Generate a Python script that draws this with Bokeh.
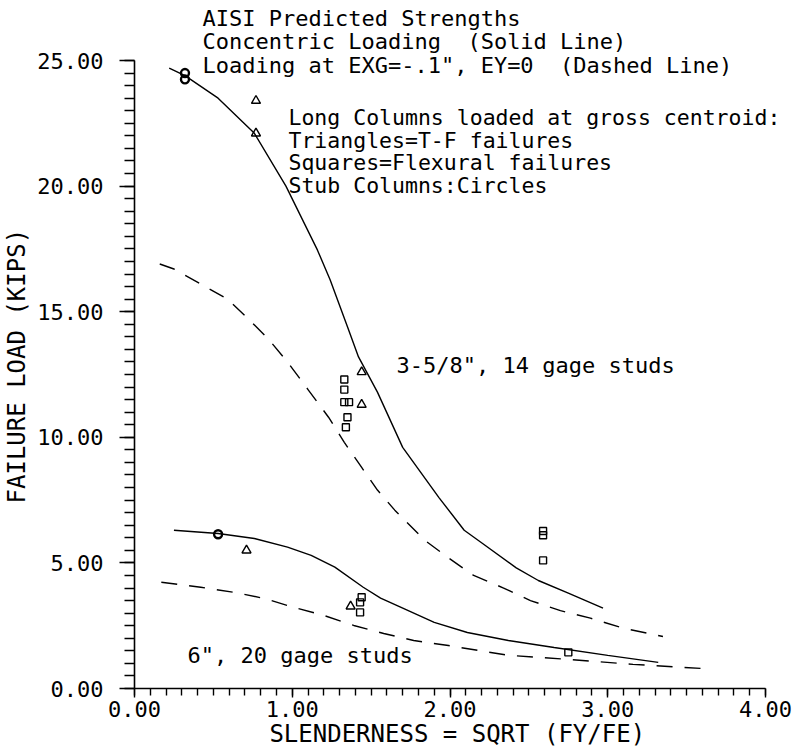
from bokeh.plotting import figure
from bokeh.models import Range1d, FixedTicker, PrintfTickFormatter, Label
from bokeh.embed import file_html
from bokeh.resources import INLINE

# ---- data ----
x_conc_14 = [0.22, 0.32, 0.53, 0.76, 0.96, 1.16, 1.24, 1.35, 1.42, 1.54, 1.70, 1.93, 2.09, 2.20, 2.42, 2.56, 2.75, 2.97]
y_conc_14 = [24.7, 24.4, 23.5, 22.1, 20.0, 17.45, 16.27, 14.4, 13.2, 11.8, 9.6, 7.6, 6.3, 5.8, 4.8, 4.3, 3.8, 3.2]

x_ecc_14 = [0.16, 0.25, 0.42, 0.59, 0.74, 0.85, 0.97, 1.10, 1.23, 1.33, 1.44, 1.54, 1.65, 1.84, 1.99, 2.15, 2.34, 2.51, 2.70, 2.89, 3.10, 3.35]
y_ecc_14 = [16.9, 16.7, 16.1, 15.5, 14.6, 13.9, 13.0, 11.9, 10.8, 9.8, 8.8, 7.9, 7.1, 5.9, 5.2, 4.5, 4.0, 3.5, 3.1, 2.8, 2.4, 2.07]

x_conc_20 = [0.25, 0.53, 0.76, 0.97, 1.12, 1.27, 1.45, 1.56, 1.69, 1.90, 2.11, 2.37, 2.66, 3.00, 3.32]
y_conc_20 = [6.3, 6.17, 5.97, 5.63, 5.3, 4.83, 4.03, 3.6, 3.23, 2.63, 2.23, 1.91, 1.63, 1.32, 1.04]

x_ecc_20 = [0.17, 0.42, 0.63, 0.82, 1.01, 1.20, 1.39, 1.58, 1.77, 1.99, 2.37, 2.75, 3.16, 3.59]
y_ecc_20 = [4.23, 4.03, 3.83, 3.59, 3.23, 2.91, 2.51, 2.19, 1.91, 1.71, 1.32, 1.16, 0.96, 0.8]

x_tf = [0.77, 0.77, 1.44, 1.44, 0.71, 1.37]
y_tf = [23.4, 22.1, 12.6, 11.3, 5.5, 3.27]

x_flex = [1.33, 1.33, 1.33, 1.36, 1.35, 1.34, 1.44, 1.43, 1.43, 2.59, 2.59, 2.59, 2.75]
y_flex = [12.3, 11.9, 11.4, 11.4, 10.8, 10.4, 3.63, 3.43, 3.03, 6.27, 6.1, 5.1, 1.44]

x_stub = [0.32, 0.32, 0.53]
y_stub = [24.5, 24.25, 6.14]

x_major = [0, 1, 2, 3, 4]
x_minor = [i / 10 for i in range(0, 41)]
y_major = [0, 5, 10, 15, 20, 25]
y_minor = [i / 2 for i in range(0, 51)]

NB = "\u00a0"
title_lines = [
    "AISI Predicted Strengths",
    "Concentric Loading" + NB + " (Solid Line)",
    "Loading at EXG=-.1\", EY=0" + NB + " (Dashed Line)",
]
note_lines = [
    "Long Columns loaded at gross centroid:",
    "Triangles=T-F failures",
    "Squares=Flexural failures",
    "Stub Columns:Circles",
]
label_14 = "3-5/8\", 14 gage studs"
label_20 = "6\", 20 gage studs"
x_title = "SLENDERNESS = SQRT (FY/FE)"
y_title = "FAILURE LOAD (KIPS)"

FONT = "DejaVu Sans Mono"
FS = "22px"

p = figure(width=794, height=755, output_backend="svg", toolbar_location=None,
           x_range=Range1d(0, 4.1838), y_range=Range1d(0, 27.389),
           min_border_left=134, min_border_right=0, min_border_top=0, min_border_bottom=67)
p.grid.visible = False
p.outline_line_color = None
p.background_fill_color = "white"
p.border_fill_color = "white"

p.xaxis.bounds = (0, 4)
p.yaxis.bounds = (0, 25)
p.xaxis.ticker = FixedTicker(ticks=x_major, minor_ticks=x_minor)
p.yaxis.ticker = FixedTicker(ticks=y_major, minor_ticks=y_minor)
p.xaxis.formatter = PrintfTickFormatter(format="%.2f")
p.yaxis.formatter = PrintfTickFormatter(format="%.2f")
# axis titles: padding keeps the centred title where the reference has it
p.xaxis.axis_label = x_title + NB
p.yaxis.axis_label = y_title + NB * 3
for ax in (p.xaxis, p.yaxis):
    ax.axis_line_color = "black"
    ax.axis_line_width = 1.6
    ax.major_tick_line_color = "black"
    ax.minor_tick_line_color = "black"
    ax.major_tick_line_width = 1.4
    ax.minor_tick_line_width = 1.4
    ax.major_tick_in = 0
    ax.minor_tick_in = 0
    ax.major_label_text_font = FONT
    ax.major_label_text_font_size = FS
    ax.major_label_text_color = "black"
    ax.axis_label_text_font = FONT
    ax.axis_label_text_font_size = "24px"
    ax.axis_label_text_font_style = "normal"
    ax.axis_label_text_color = "black"
p.xaxis.major_tick_out = 9
p.xaxis.minor_tick_out = 7
p.xaxis.major_label_standoff = 3
p.xaxis.axis_label_standoff = 0
p.yaxis.major_tick_out = 15
p.yaxis.minor_tick_out = 10
p.yaxis.major_label_standoff = 16
p.yaxis.axis_label_standoff = 3

LW = 1.4
DASH = "16 12"
p.line(x_conc_14, y_conc_14, line_color="black", line_width=LW)
p.line(x_ecc_14, y_ecc_14, line_color="black", line_width=LW, line_dash=DASH)
p.line(x_conc_20, y_conc_20, line_color="black", line_width=LW)
p.line(x_ecc_20, y_ecc_20, line_color="black", line_width=LW, line_dash=DASH)

p.scatter(x_tf, y_tf, marker="triangle", size=9, fill_color=None, line_color="black", line_width=1.4)
p.scatter(x_flex, y_flex, marker="square", size=7, fill_color=None, line_color="black", line_width=1.4)
p.scatter(x_stub, y_stub, marker="circle", size=8, fill_color=None, line_color="black", line_width=2.4)

def add_text(x, y, t, size=FS):
    p.add_layout(Label(x=x, y=y, text=t, text_font=FONT, text_font_size=size,
                       text_color="black", text_baseline="alphabetic", text_align="left"))

for i, t in enumerate(title_lines):
    add_text(0.431, 26.67 - i * 0.93, t)
for i, t in enumerate(note_lines):
    add_text(0.976, 22.73 - i * 0.9, t, size="21.5px")
add_text(1.661, 12.86, label_14)
add_text(0.336, 1.315, label_20)

open("out.html", "w").write(file_html(p, INLINE))
